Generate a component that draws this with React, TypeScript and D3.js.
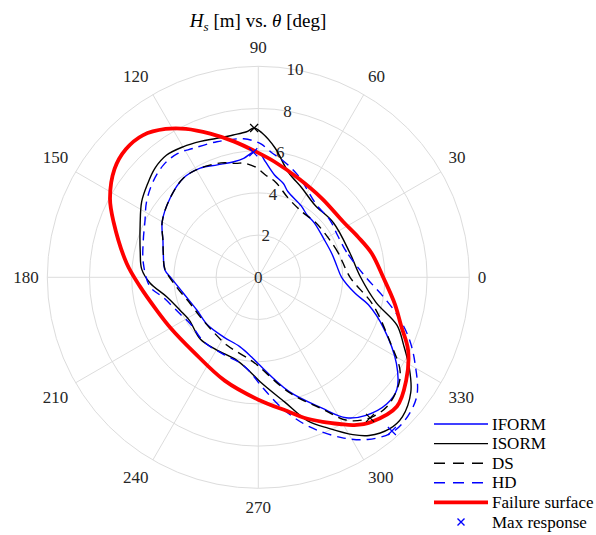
import React from 'react';
import * as d3 from 'd3';

const W = 596;
const H = 535;
const CX = 258.3;
const CY = 277.3;
const R = 211;

const rTicks = [0, 2, 4, 6, 8, 10];
const thetaTicks = [0, 30, 60, 90, 120, 150, 180, 210, 240, 270, 300, 330];
const rLabelAngle = 80;

// IFORM (blue solid)
const iformTheta = [0, 9, 18, 30, 44, 52, 59, 71, 75, 81, 86.5, 89.5, 92.3, 97, 102, 110, 118, 127, 138, 150, 159, 166, 175.5, 181, 192, 208, 223, 240, 255, 265, 270, 285, 296, 302, 308, 315.5, 321, 328, 338, 346, 350.6];
const iformHs = [3.95, 3.75, 3.66, 3.6, 3.7, 3.75, 3.95, 4.3, 4.6, 4.91, 5.49, 5.9, 5.93, 5.68, 5.6, 5.67, 5.86, 5.89, 5.62, 5.26, 4.84, 4.64, 4.44, 4.1, 3.63, 3.3, 3.3, 3.27, 3.4, 3.78, 4.1, 5.6, 6.9, 7.85, 8.3, 8.55, 8.45, 7.72, 6.4, 5.38, 4.65];

// ISORM (black solid)
const isormTheta = [0, 15, 36, 52, 64, 74, 82.6, 88.5, 91.6, 94.6, 100, 107, 113, 120, 127, 133.5, 140, 147, 156, 168, 176, 183, 192, 203, 212, 227, 240, 255, 265, 271, 282, 289, 295, 301, 305, 311, 316, 323, 329, 335, 341, 348];
const isormHs = [4.85, 4.49, 4.4, 4.35, 4.71, 5.18, 6.18, 6.84, 7.08, 6.92, 6.85, 6.88, 7.0, 7.14, 7.24, 7.12, 6.86, 6.59, 6.13, 5.72, 5.54, 5.14, 4.44, 4.02, 3.85, 4.02, 3.97, 4.05, 4.49, 4.95, 6.05, 7.2, 7.9, 8.7, 9.15, 9.5, 9.5, 9.05, 8.35, 7.6, 6.95, 5.7];

// DS (black dashed)
const dsTheta = [0, 17, 30, 44, 56, 69, 80, 86, 91, 97, 101, 108, 118, 127, 138, 150, 159, 166, 175, 187, 201, 214, 230, 245, 254, 265, 270, 285, 296, 302, 308.5, 315.5, 323, 327, 333.7, 346.5];
const dsHs = [4.35, 3.96, 3.8, 3.76, 3.73, 4.0, 4.6, 4.86, 5.2, 5.45, 5.5, 5.7, 5.86, 5.89, 5.62, 5.26, 4.84, 4.64, 4.44, 3.89, 3.46, 3.33, 3.35, 3.54, 3.67, 3.95, 4.2, 5.65, 6.95, 8.0, 8.51, 8.64, 8.35, 8.0, 6.98, 5.59];

// HD (blue dashed)
const hdTheta = [0, 16, 28, 39, 51, 69, 79, 84, 88.5, 91.5, 96, 107, 117, 123, 130, 138, 146, 154, 162, 173, 185, 192, 205, 215, 230, 245, 258, 265, 272, 281, 289, 298, 304, 310, 315, 323, 331, 338, 345, 352];
const hdHs = [5.1, 4.35, 4.25, 4.35, 4.4, 5.2, 5.7, 5.95, 6.3, 6.45, 6.6, 6.72, 6.85, 7.0, 6.97, 6.73, 6.39, 5.98, 5.73, 5.49, 5.15, 4.6, 4.1, 3.9, 4.0, 4.0, 4.15, 4.5, 5.2, 6.4, 7.5, 8.63, 9.27, 9.68, 9.72, 9.4, 8.5, 7.7, 6.8, 5.9];

// Failure surface (red)
const failTheta = [0, 12, 22, 33, 51, 68, 82, 91, 100, 108.5, 116, 122, 129, 136, 143, 152, 159, 174, 184.5, 198, 210, 229, 252, 270, 283, 288, 294, 299, 303, 308, 317, 325, 334, 341, 349];
const failHs = [5.92, 5.49, 5.1, 4.81, 4.8, 5.06, 5.53, 5.95, 6.53, 7.18, 7.83, 8.29, 8.67, 8.73, 8.53, 7.96, 7.35, 6.27, 5.62, 5.06, 4.8, 4.68, 5.15, 5.8, 6.55, 7.0, 7.5, 7.95, 8.35, 8.7, 8.98, 8.55, 7.9, 7.17, 6.59];

// Max response markers
const maxTheta = [91.6, 92.3, 308.5, 311];
const maxHs = [7.08, 5.93, 8.51, 9.65];
const maxColor = ['#000000', '#0000ff', '#000000', '#0000ff'];

const legendLabels = ['IFORM', 'ISORM', 'DS', 'HD', 'Failure surface', 'Max response'];

const FONT = '"Liberation Serif", "Times New Roman", serif';

type Pt = [number, number];
const zip = (t: number[], h: number[]): Pt[] => t.map((v, i) => [v, h[i]] as Pt);

export default function App() {
  const r = d3.scaleLinear().domain([0, 10]).range([0, R]);
  const toA = (deg: number) => ((90 - deg) * Math.PI) / 180;
  const line = d3
    .lineRadial<Pt>()
    .angle((d) => toA(d[0]))
    .radius((d) => r(d[1]))
    .curve(d3.curveCatmullRomClosed.alpha(0.5));
  const px = (deg: number, hs: number) => CX + r(hs) * Math.cos((deg * Math.PI) / 180);
  const py = (deg: number, hs: number) => CY - r(hs) * Math.sin((deg * Math.PI) / 180);

  const series = [
    { name: 'IFORM', d: zip(iformTheta, iformHs), color: '#0000ff', dash: undefined, w: 1.4 },
    { name: 'ISORM', d: zip(isormTheta, isormHs), color: '#000000', dash: undefined, w: 1.4 },
    { name: 'DS', d: zip(dsTheta, dsHs), color: '#000000', dash: '9,6', w: 1.4 },
    { name: 'HD', d: zip(hdTheta, hdHs), color: '#0000ff', dash: '9,6', w: 1.4 },
    { name: 'Failure surface', d: zip(failTheta, failHs), color: '#ff0000', dash: undefined, w: 3.8 },
  ];

  const labelR = R + 8.5;
  const eps = 1e-6;

  return (
    <svg width={W} height={H} style={{ position: 'absolute', left: 0, top: 0, background: '#fff' }} fontFamily={FONT}>
      <rect x={0} y={0} width={W} height={H} fill="#fff" />
      {/* title */}
      <text x={258} y={27} textAnchor="middle" fontSize={19} fill="#000">
        <tspan fontStyle="italic">H</tspan>
        <tspan fontStyle="italic" fontSize={13} dy={4}>s</tspan>
        <tspan dy={-4} dx={5}>[m] vs. </tspan>
        <tspan fontStyle="italic">θ</tspan>
        <tspan> [deg]</tspan>
      </text>
      <g transform={`translate(${CX},${CY})`}>
        {rTicks.filter((t) => t > 0).map((t) => (
          <circle key={t} r={r(t)} fill="none" stroke="#dcdcdc" strokeWidth={1} />
        ))}
        {thetaTicks.map((t) => (
          <line key={t} x1={0} y1={0} x2={r(10) * Math.cos((t * Math.PI) / 180)} y2={-r(10) * Math.sin((t * Math.PI) / 180)} stroke="#dcdcdc" strokeWidth={1} />
        ))}
      </g>
      {thetaTicks.map((t) => {
        const c = Math.cos((t * Math.PI) / 180);
        const s = Math.sin((t * Math.PI) / 180);
        const x = CX + labelR * c;
        const y0 = CY - labelR * s;
        const anchor = c > eps ? 'start' : c < -eps ? 'end' : 'middle';
        const y = s > eps ? y0 - 10.5 : s < -eps ? y0 + 10.5 : y0;
        return (
          <text key={t} x={x} y={y} textAnchor={anchor} dominantBaseline="central" fontSize={17} fill="#262626">
            {t}
          </text>
        );
      })}
      {rTicks.map((t) => (
        <text key={t} x={px(rLabelAngle, t)} y={py(rLabelAngle, t)} textAnchor="middle" dominantBaseline="central" fontSize={17} fill="#262626">
          {t}
        </text>
      ))}
      <g transform={`translate(${CX},${CY})`}>
        {series.map((s) => (
          <path key={s.name} d={line(s.d) || ''} fill="none" stroke={s.color} strokeWidth={s.w} strokeDasharray={s.dash} strokeLinejoin="round" />
        ))}
      </g>
      {maxTheta.map((t, i) => {
        const x = px(t, maxHs[i]);
        const y = py(t, maxHs[i]);
        return (
          <path key={i} d={`M${x - 4},${y - 4}L${x + 4},${y + 4}M${x - 4},${y + 4}L${x + 4},${y - 4}`} stroke={maxColor[i]} strokeWidth={1.2} fill="none" />
        );
      })}
      {/* legend */}
      {legendLabels.map((lab, i) => {
        const y = 424 + i * 19.6;
        const s = series[i];
        return (
          <g key={lab}>
            {s ? (
              <line x1={434} x2={488} y1={y} y2={y} stroke={s.color} strokeWidth={s.w} strokeDasharray={s.dash ? '11,8' : undefined} />
            ) : (
              <path d={`M${461 - 3.5},${y - 3.5}L${461 + 3.5},${y + 3.5}M${461 - 3.5},${y + 3.5}L${461 + 3.5},${y - 3.5}`} stroke="#0000ff" strokeWidth={1.4} />
            )}
            <text x={492} y={y} dominantBaseline="central" fontSize={17} fill="#000">
              {lab}
            </text>
          </g>
        );
      })}
    </svg>
  );
}
